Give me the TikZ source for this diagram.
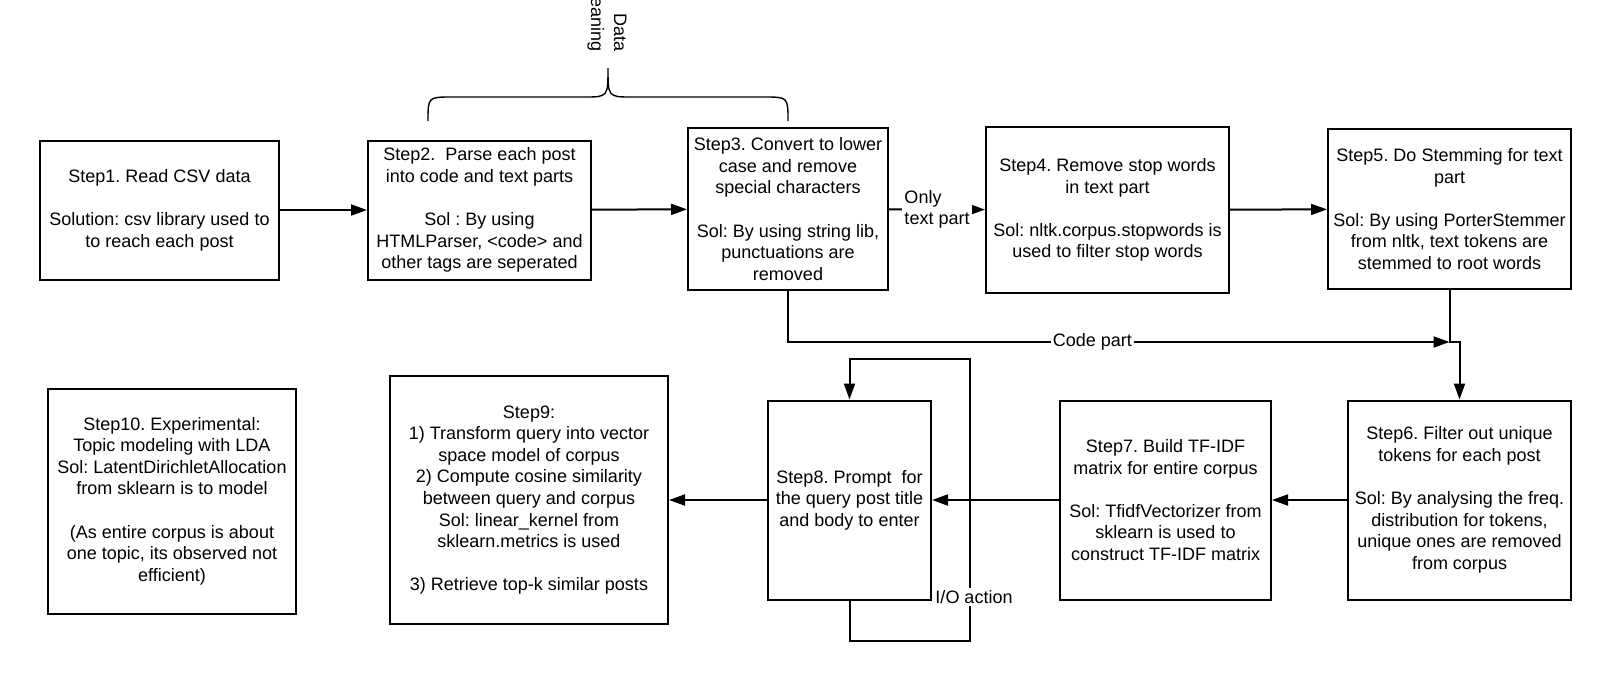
\documentclass[tikz,border=0pt]{standalone}
\usepackage{fontspec}
\setmainfont{Liberation Sans}
\frenchspacing
\usetikzlibrary{arrows.meta}

\begin{document}
\begin{tikzpicture}[x=0.5pt, y=-0.5pt, >={Triangle[length=8pt, width=5.5pt]},
    stepbox/.style={draw, line width=1pt, align=center, inner sep=0pt, font=\fontsize{9}{10.8}\selectfont},
    flow/.style={->, line width=1pt},
    lbl/.style={fill=white, inner sep=1pt, font=\fontsize{9}{10.8}\selectfont}]
    \useasboundingbox (0,0) rectangle (1611,682);
    % Top row
    \node[stepbox, minimum width=119.5pt, minimum height=69.5pt] (step1) at (159.5,210) {Step1. Read CSV data\\[10.8pt]Solution: csv library used to\\to reach each post};
    \node[stepbox, minimum width=111.5pt, minimum height=69.5pt] (step2) at (479.5,210) {Step2.\ \ Parse each post\\into code and text parts\\[10.8pt]Sol : By using\\HTMLParser, <code> and\\other tags are seperated};
    \node[stepbox, minimum width=100pt, minimum height=81pt] (step3) at (788,209) {Step3. Convert to lower\\case and remove\\special characters\\[10.8pt]Sol: By using string lib,\\punctuations are\\removed};
    \node[stepbox, minimum width=121.5pt, minimum height=83pt] (step4) at (1107.5,210) {Step4. Remove stop words\\in text part\\[10.8pt]Sol: nltk.corpus.stopwords is\\used to filter stop words};
    \node[stepbox, minimum width=121.5pt, minimum height=80pt] (step5) at (1449.5,209) {Step5. Do Stemming for text\\part\\[10.8pt]Sol: By using PorterStemmer\\from nltk, text tokens are\\stemmed to root words};
    % Bottom row
    \node[stepbox, minimum width=111.5pt, minimum height=99.5pt] (step6) at (1459.5,500) {Step6. Filter out unique\\tokens for each post\\[10.8pt]Sol: By analysing the freq.\\distribution for tokens,\\unique ones are removed\\from corpus};
    \node[stepbox, minimum width=105.5pt, minimum height=99.5pt] (step7) at (1165.5,500) {Step7. Build TF-IDF\\matrix for entire corpus\\[10.8pt]Sol: TfidfVectorizer from\\sklearn is used to\\construct TF-IDF matrix};
    \node[stepbox, minimum width=81.5pt, minimum height=99.5pt] (step8) at (849.5,500) {Step8. Prompt\ \ for\\the query post title\\and body to enter};
    \node[stepbox, minimum width=139pt, minimum height=124pt] (step9) at (529,500) {Step9:\\1) Transform query into vector\\space model of corpus\\2) Compute cosine similarity\\between query and corpus\\Sol: linear\_kernel from\\sklearn.metrics is used\\[10.8pt]3) Retrieve top-k similar posts};
    \node[stepbox, minimum width=124pt, minimum height=112.5pt] (step10) at (172,501) {Step10. Experimental:\\Topic modeling with LDA\\Sol: LatentDirichletAllocation\\from sklearn is to model\\[10.8pt](As entire corpus is about\\one topic, its observed not\\efficient)};
    % Brace over steps 2 and 3
    \draw[line width=0.7pt] (428,121) .. controls (428,97) .. (452,97) -- (584,97)
        .. controls (608,97) .. (608,68) .. controls (608,97) .. (632,97) -- (764,97)
        .. controls (788,97) .. (788,121);
    \node[rotate=-90, anchor=east, align=right, inner sep=0pt, font=\fontsize{9}{11.5}\selectfont] (clean) at (607,52) {Data\\Cleaning};
    % Connectors
    \coordinate (join) at (1449.5,342);
    \coordinate (ioB) at (970,641);
    \coordinate (ioT) at (970,359);
    \draw[flow] (step1) -- (step2);
    \draw[flow] (step2) -- (step3);
    \draw[flow] (step3) -- node[lbl, align=left] {Only\\text part} (step4);
    \draw[flow] (step4) -- (step5);
    \draw[flow] (step3.south) |- node[lbl, pos=0.73] {Code part} (join);
    \draw[flow] (step5.south) -- (join) -| (step6.north);
    \draw[flow] (step6) -- (step7);
    \draw[flow] (step7) -- (step8);
    \draw[flow] (step8) -- (step9);
    \draw[flow] (step8.south) |- (ioB) -- node[lbl, pos=0.156, xshift=2pt] {I/O action} (ioT) -| (step8.north);
\end{tikzpicture}
\end{document}
